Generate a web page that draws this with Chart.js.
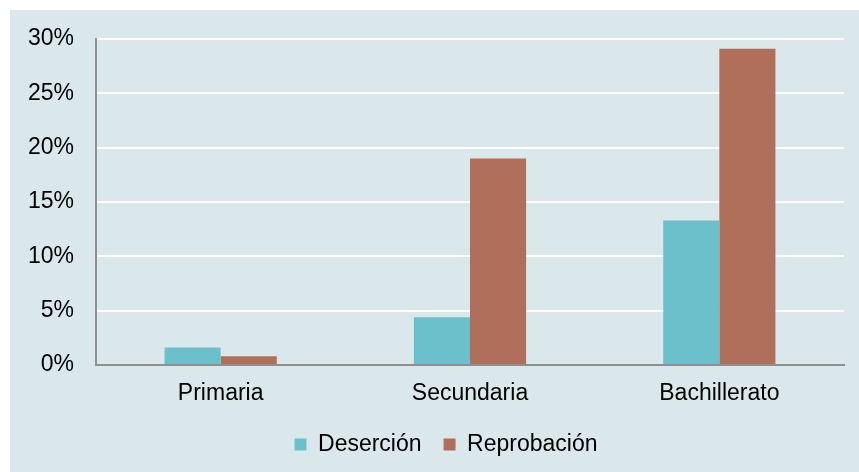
<!DOCTYPE html>
<html>
<head>
<meta charset="utf-8">
<script src="https://cdn.jsdelivr.net/npm/chart.js@4"></script>
<style>
  html, body { margin: 0; padding: 0; background: #ffffff; }
  #wrap { position: absolute; left: 10px; top: 10px; width: 849px; height: 462px; background: #dae8eb; }
</style>
</head>
<body>
<div id="wrap"><canvas id="chart" width="849" height="462"></canvas></div>
<script>
const categories = ['Primaria', 'Secundaria', 'Bachillerato'];
const desercion = [1.6, 4.4, 13.3];
const reprobacion = [0.8, 19.0, 29.1];
const yTicks = [0, 5, 10, 15, 20, 25, 30];

Chart.defaults.font.family = '"Liberation Sans", Arial, sans-serif';
Chart.defaults.font.size = 23;
Chart.defaults.color = '#000000';

// nudge the legend a little right, like the original
const legendShift = {
  id: 'legendShift',
  afterLayout(chart) {
    chart.legend.left += 19;
    chart.legend.right += 19;
  }
};

new Chart(document.getElementById('chart').getContext('2d'), {
  type: 'bar',
  data: {
    labels: categories,
    datasets: [
      { label: 'Deserción', data: desercion, backgroundColor: '#6bc0cb', borderWidth: 0 },
      { label: 'Reprobación', data: reprobacion, backgroundColor: '#b06f5a', borderWidth: 0 }
    ]
  },
  plugins: [legendShift],
  options: {
    responsive: false,
    animation: false,
    layout: { padding: { top: 29, right: 15, left: 0, bottom: 6 } },
    datasets: { bar: { categoryPercentage: 0.45, barPercentage: 1 } },
    plugins: {
      tooltip: { enabled: false },
      legend: {
        position: 'bottom',
        labels: { boxWidth: 12, boxHeight: 12, padding: 22, font: { size: 23 } }
      }
    },
    scales: {
      x: {
        grid: { display: false },
        border: { display: true, color: '#8f8f8f', width: 2 },
        ticks: { padding: 7, font: { size: 23 } },
        afterFit: (s) => { s.height = 46; }
      },
      y: {
        min: 0,
        max: 30,
        afterBuildTicks: (s) => { s.ticks = yTicks.map(v => ({ value: v })); },
        grid: { color: '#ffffff', lineWidth: 2, drawTicks: true, tickLength: 12, tickColor: 'rgba(0,0,0,0)' },
        border: { display: true, color: '#8f8f8f', width: 2 },
        ticks: { padding: 10, callback: (v) => v + '%', font: { size: 23 } },
        afterFit: (s) => { s.width = 86; }
      }
    }
  }
});
</script>
</body>
</html>
